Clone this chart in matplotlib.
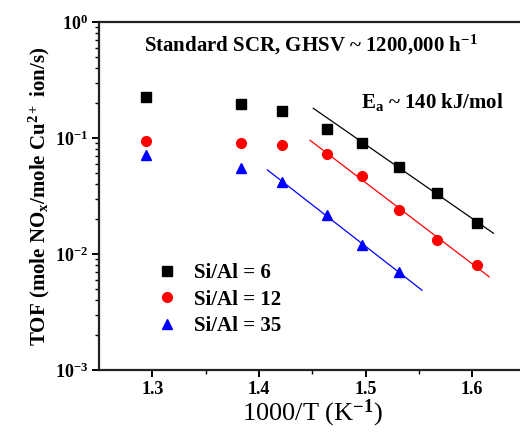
import matplotlib.pyplot as plt
import numpy as np

plt.rcParams['font.family'] = ['Liberation Serif', 'DejaVu Serif']
plt.rcParams['mathtext.fontset'] = 'custom'
plt.rcParams['mathtext.rm'] = 'Liberation Serif:bold'
plt.rcParams['mathtext.it'] = 'Liberation Serif:bold'
plt.rcParams['mathtext.bf'] = 'Liberation Serif:bold'

# 1000/T (K^-1) for 500, 450, 430, 410, 395, 380, 365, 350 C
inv_T = [1.294, 1.383, 1.422, 1.464, 1.497, 1.531, 1.567, 1.605]

tof_si6 = [0.227, 0.196, 0.172, 0.1196, 0.0911, 0.0559, 0.0334, 0.0186]
tof_si12 = [0.0942, 0.0911, 0.0871, 0.0723, 0.047, 0.0239, 0.0131, 0.0080]
tof_si35 = [0.071, 0.055, 0.0415, 0.0218, 0.0120, 0.0070]

labels = ["Si/Al = 6", "Si/Al = 12", "Si/Al = 35"]
colors = ["black", "red", "blue"]
markers = ["s", "o", "^"]
series = [tof_si6, tof_si12, tof_si35]

# points used in the Arrhenius fit and extent of each fit line
fit_idx = [(4, 8), (3, 8), (2, 6)]
fit_span = [(1.451, 1.620), (1.448, 1.616), (1.408, 1.553)]

fig = plt.figure(figsize=(5.2, 4.38), dpi=100)
ax = fig.add_axes([0.1904, 0.1553, 0.8200, 0.7945])

for tof, c, m, lab, (i0, i1), (xa, xb) in zip(series, colors, markers, labels, fit_idx, fit_span):
    x = np.array(inv_T[:len(tof)])
    y = np.array(tof)
    ax.plot(x, y, linestyle='none', marker=m, color=c, markersize=7, label=lab)
    k, b = np.polyfit(x[i0:i1], np.log10(y[i0:i1]), 1)
    xf = np.linspace(xa, xb, 20)
    ax.plot(xf, 10 ** (k * xf + b), color=c, linewidth=0.9)

ax.set_yscale('log')
ax.set_xlim(1.25, 1.65)
ax.set_ylim(1e-3, 1)
ax.set_xticks([1.3, 1.4, 1.5, 1.6])
ax.set_xticks([1.35, 1.45, 1.55], minor=True)
ax.set_yticks([1e-3, 1e-2, 1e-1, 1])

for s in ax.spines.values():
    s.set_linewidth(1.6)
    s.set_color('#222222')
ax.tick_params(which='major', direction='out', length=5, width=1.4, labelsize=13, pad=3)
ax.tick_params(which='minor', direction='out', length=3, width=1.0)
for t in ax.get_xticklabels() + ax.get_yticklabels():
    t.set_fontweight('bold')

ax.set_xlabel("1000/T (K$^{-1}$)", fontsize=19, fontweight='normal', labelpad=0)
ax.set_ylabel("TOF (mole NO$_x$/mole Cu$^{2+}$ ion/s)", fontsize=15, fontweight='bold', labelpad=2)

ax.text(0.105, 0.935, "Standard SCR, GHSV ~ 1200,000 h$^{-1}$", transform=ax.transAxes,
        fontsize=15, fontweight='bold', va='center')
ax.text(0.615, 0.77, "E$_a$ ~ 140 kJ/mol", transform=ax.transAxes,
        fontsize=15, fontweight='bold', va='center')

ax.legend(loc='upper left', bbox_to_anchor=(0.09, 0.36), frameon=False,
          prop={'weight': 'bold', 'size': 15}, handletextpad=0.8, labelspacing=0.3,
          handlelength=1.0)

fig.savefig("out.png", dpi=100)
